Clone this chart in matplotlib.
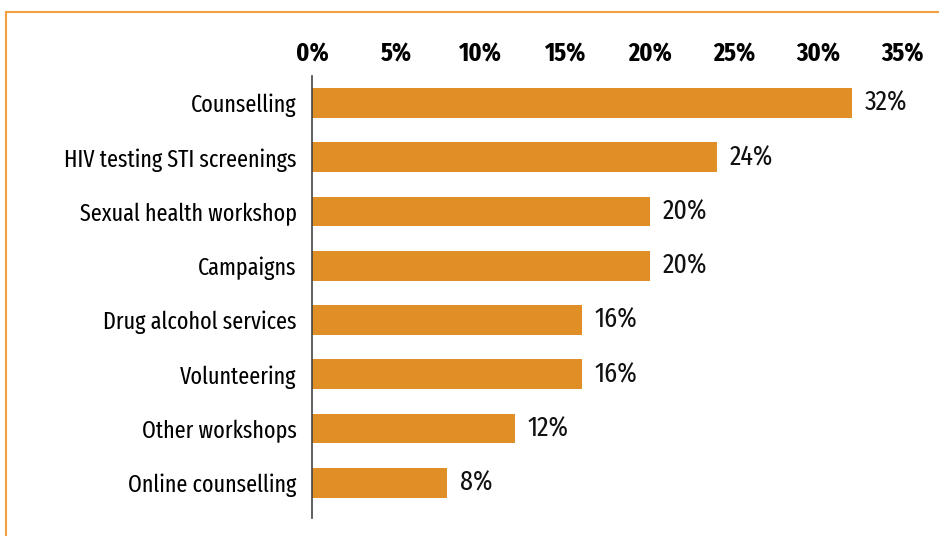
import matplotlib.pyplot as plt
from matplotlib.lines import Line2D
from matplotlib import font_manager as fm
from matplotlib.textpath import TextPath

categories = [
    "Counselling",
    "HIV testing STI screenings",
    "Sexual health workshop",
    "Campaigns",
    "Drug alcohol services",
    "Volunteering",
    "Other workshops",
    "Online counselling",
]
values = [32, 24, 20, 20, 16, 16, 12, 8]
ticks = [0, 5, 10, 15, 20, 25, 30, 35]

STRETCH_RANK = {'ultra-condensed': 0, 'extra-condensed': 1, 'condensed': 2,
                'semi-condensed': 3}


def is_bold(w):
    if isinstance(w, str):
        return w in ('bold', 'heavy', 'black', 'extra bold', 'semibold', 'demibold')
    return w >= 600


def narrow_font(bold):
    # pick the narrowest installed condensed face
    best = None
    for f in fm.fontManager.ttflist:
        st = f.stretch if isinstance(f.stretch, str) else 'normal'
        if 'ExtraCondensed' in f.fname or 'Extra Condensed' in f.name:
            st = 'extra-condensed'
        elif 'SemiCondensed' in f.fname:
            st = 'semi-condensed'
        elif 'Condensed' in f.name or 'Narrow' in f.name or 'Condensed' in f.fname:
            st = st if st in STRETCH_RANK else 'condensed'
        if st not in STRETCH_RANK or f.style != 'normal':
            continue
        if is_bold(f.weight) != bold:
            continue
        w = f.weight if isinstance(f.weight, int) else (700 if bold else 400)
        if w not in (400, 700):
            continue
        rank = STRETCH_RANK[st]
        if best is None or rank < best[0]:
            best = (rank, f.fname)
    return None if best is None else fm.FontProperties(fname=best[1])


reg = narrow_font(False)
bld = narrow_font(True)
if reg is None:
    reg = fm.FontProperties(family='DejaVu Sans')
if bld is None:
    bld = reg.copy()
    bld.set_weight('bold')

# size the text so it is about as wide as in the source (pixels at 100 dpi)
def fit(prop, text, px):
    w10 = TextPath((0, 0), text, size=10, prop=prop).get_extents().width
    return min(24, 10 * px * 0.72 / w10)

lab_font = reg.copy()
lab_font.set_size(fit(reg, "HIV testing STI screenings", 230))
val_font = reg.copy()
val_font.set_size(fit(reg, "32%", 41))
tick_font = bld.copy()
tick_font.set_size(fit(bld, "35%", 42))

W, H = 939, 536
fig = plt.figure(figsize=(W / 100, H / 100), dpi=100)
ax = fig.add_axes([312 / W, 1 - 518 / H, (903 - 312) / W, (518 - 76) / H])

pos = list(range(len(categories)))
ax.barh(pos, values, height=0.55, color='#E08F26')
for p, v in zip(pos, values):
    ax.text(v + 0.75, p, f"{v}%", va='center', ha='left', fontproperties=val_font, color='#111111')

ax.set_xlim(0, 35)
ax.set_ylim(7.65, -0.5)
ax.set_yticks(pos, labels=categories)
ax.set_xticks(ticks, labels=[f"{t}%" for t in ticks])
ax.xaxis.tick_top()
ax.tick_params(axis='x', length=0, pad=7)
ax.tick_params(axis='y', length=0, pad=11)
for lab in ax.get_xticklabels():
    lab.set_fontproperties(tick_font)
for lab in ax.get_yticklabels():
    lab.set_fontproperties(lab_font)
for s in ['top', 'right', 'bottom']:
    ax.spines[s].set_visible(False)
ax.spines['left'].set_color('#444444')
ax.spines['left'].set_linewidth(1.2)

# orange frame at top and left
fig.add_artist(Line2D([6 / W, 1], [1 - 12 / H, 1 - 12 / H], color='#F0A040', lw=1.5))
fig.add_artist(Line2D([6 / W, 6 / W], [0, 1 - 12 / H], color='#F0A040', lw=1.5))

fig.savefig('out.png', dpi=100)
